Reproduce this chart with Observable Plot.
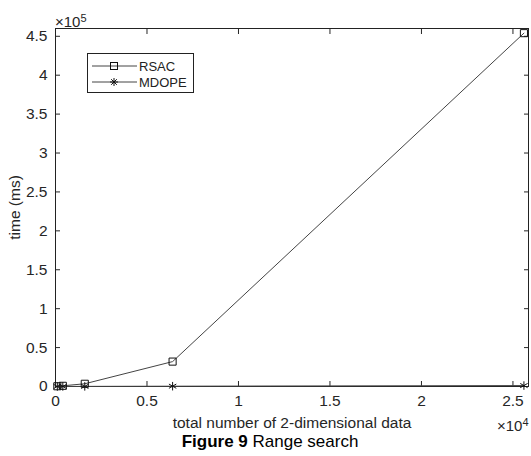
<!DOCTYPE html>
<html><head><meta charset="utf-8">
<script src="https://cdn.jsdelivr.net/npm/d3@7"></script>
<script src="https://cdn.jsdelivr.net/npm/@observablehq/plot@0.6"></script>
<style>
body{margin:0;background:#fff;font-family:"Liberation Sans",Arial,sans-serif;}
#wrap{position:relative;width:531px;height:432px;}
#wrap svg{display:block;}
#cap{text-align:center;font-size:17px;line-height:20px;color:#000;padding-left:9px;}
.mag{position:absolute;font-size:15px;color:#262626;line-height:16px;}
#legend{position:absolute;left:87px;top:53px;}
</style></head><body>
<div id="wrap"></div>
<div id="cap"><b>Figure 9</b> Range search</div>
<script>
const sizes = [100, 400, 1600, 6400, 25600];
const rsac = [300, 900, 3500, 32000, 454000];
const mdope = [20, 60, 150, 400, 1200];
const xTicks = [0, 5000, 10000, 15000, 20000, 25000];
const yTicks = [0, 50000, 100000, 150000, 200000, 250000, 300000, 350000, 400000, 450000];
const seriesNames = ["RSAC", "MDOPE"];

const data = [
  ...sizes.map((n, i) => ({n, t: rsac[i], s: "RSAC"})),
  ...sizes.map((n, i) => ({n, t: mdope[i], s: "MDOPE"}))
];
const fmt = k => d => d === 0 ? "0" : String(+(d / k).toFixed(2));
const lineCol = "#444";

const chart = Plot.plot({
  width: 531, height: 432,
  marginTop: 28, marginLeft: 55, marginRight: 3, marginBottom: 46,
  style: {fontFamily: "Liberation Sans, Arial, sans-serif", fontSize: "15.5px", color: "#262626", background: "#fff"},
  x: {domain: [0, 25850]},
  y: {domain: [0, 460000]},
  marks: [
    Plot.axisX({ticks: xTicks, tickFormat: fmt(1e4), tickSize: -5, tickPadding: 13, label: "total number of 2-dimensional data", labelAnchor: "center", labelArrow: "none", labelOffset: 41}),
    Plot.axisX({anchor: "top", ticks: xTicks, tickFormat: () => "", tickSize: -5, label: null}),
    Plot.axisY({ticks: yTicks, tickFormat: fmt(1e5), tickSize: -5, tickPadding: 13, label: "time (ms)", labelAnchor: "center", labelArrow: "none", labelOffset: 47}),
    Plot.axisY({anchor: "right", ticks: yTicks, tickFormat: () => "", tickSize: -5, label: null}),
    Plot.frame({stroke: "#222"}),
    Plot.line(data, {x: "n", y: "t", z: "s", stroke: lineCol, strokeWidth: 1}),
    Plot.dot(data.filter(d => d.s === "RSAC"), {x: "n", y: "t", symbol: "square", r: 4, stroke: "#111", fill: "none", strokeWidth: 1}),
    Plot.dot(data.filter(d => d.s === "MDOPE"), {x: "n", y: "t", symbol: "asterisk", r: 4, stroke: "#111", strokeWidth: 1})
  ]
});
const wrap = document.getElementById("wrap");
wrap.appendChild(chart);

// exponent labels
const e5 = document.createElement("div");
e5.className = "mag"; e5.style.left = "55px"; e5.style.top = "10px";
e5.innerHTML = "×10<sup style='font-size:11px;vertical-align:5px'>5</sup>";
wrap.appendChild(e5);
const e4 = document.createElement("div");
e4.className = "mag"; e4.style.left = "497px"; e4.style.top = "414px";
e4.innerHTML = "×10<sup style='font-size:11px;vertical-align:5px'>4</sup>";
wrap.appendChild(e4);

// legend
const ns = "http://www.w3.org/2000/svg";
const lg = document.createElementNS(ns, "svg");
lg.setAttribute("id", "legend");
lg.setAttribute("width", 108); lg.setAttribute("height", 41);
lg.innerHTML = `<rect x="0.5" y="0.5" width="106" height="39" fill="#fff" stroke="#222"/>` +
  seriesNames.map((s, i) => {
    const y = 13 + i * 16;
    const mk = i === 0
      ? `<rect x="23.5" y="${y-3.5}" width="7" height="7" fill="none" stroke="#111"/>`
      : `<g stroke="#111"><line x1="27" y1="${y-4}" x2="27" y2="${y+4}"/><line x1="23" y1="${y}" x2="31" y2="${y}"/><line x1="24.2" y1="${y-2.8}" x2="29.8" y2="${y+2.8}"/><line x1="24.2" y1="${y+2.8}" x2="29.8" y2="${y-2.8}"/></g>`;
    return `<line x1="5" y1="${y}" x2="50" y2="${y}" stroke="${lineCol}"/>${mk}<text x="52" y="${y+4.5}" font-size="13" fill="#222" font-family="Liberation Sans, Arial, sans-serif">${s}</text>`;
  }).join("");
wrap.appendChild(lg);
</script>
</body></html>
